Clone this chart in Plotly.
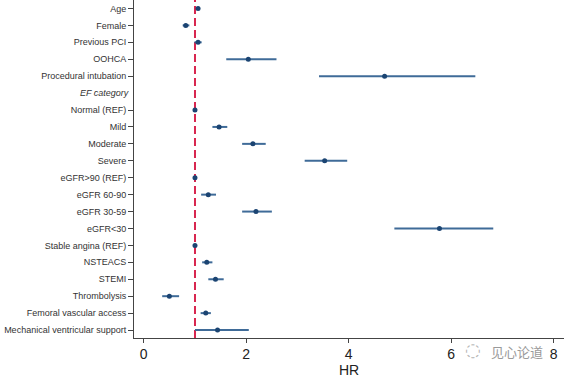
import plotly.graph_objects as go

labels = ["Age", "Female", "Previous PCI", "OOHCA", "Procedural intubation",
          "EF category", "Normal (REF)", "Mild", "Moderate", "Severe",
          "eGFR>90 (REF)", "eGFR 60-90", "eGFR 30-59", "eGFR<30",
          "Stable angina (REF)", "NSTEACS", "STEMI", "Thrombolysis",
          "Femoral vascular access", "Mechanical ventricular support"]
hr = [1.06, 0.82, 1.06, 2.04, 4.70, None, 1.0, 1.47, 2.13, 3.53,
      1.0, 1.26, 2.19, 5.77, 1.0, 1.23, 1.40, 0.50, 1.21, 1.44]
lo = [1.04, 0.76, 0.99, 1.61, 3.42, None, 1.0, 1.34, 1.92, 3.14,
      1.0, 1.12, 1.92, 4.89, 1.0, 1.14, 1.26, 0.36, 1.11, 1.00]
hi = [1.08, 0.89, 1.13, 2.59, 6.47, None, 1.0, 1.63, 2.38, 3.97,
      1.0, 1.41, 2.50, 6.82, 1.0, 1.34, 1.56, 0.69, 1.31, 2.05]
x_ticks = [0, 2, 4, 6, 8]
header_label = "EF category"
watermark = "见心论道"

rows = [i for i, h in enumerate(hr) if h is not None]
xs = [hr[i] for i in rows]
ep = [hi[i] - hr[i] for i in rows]
em = [hr[i] - lo[i] for i in rows]

FONT = "Liberation Sans, Arial"

fig = go.Figure()
fig.add_trace(go.Scatter(
    x=xs, y=rows, mode="markers",
    marker=dict(size=5, color="#1b4472"),
    error_x=dict(type="data", array=ep, arrayminus=em, symmetric=False,
                 width=0, thickness=2, color="#3f6b98"),
    showlegend=False, hoverinfo="skip", cliponaxis=False))

fig.add_shape(type="line", x0=1, x1=1, y0=0, y1=1, xref="x", yref="paper",
              line=dict(color="#d8264f", width=2, dash="8px,4px"), layer="below")

tick_rows = [i for i, l in enumerate(labels) if l != header_label]
hdr_row = labels.index(header_label)

fig.add_annotation(x=0, xref="paper", xanchor="right", xshift=-3,
                   y=hdr_row, yref="y", text="<i>" + header_label + "</i>",
                   showarrow=False,
                   font=dict(family=FONT, size=9, color="#333333"))

fig.add_annotation(x=4, xref="x", y=0, yref="paper", yanchor="middle", yshift=-32,
                   text="HR", showarrow=False,
                   font=dict(family=FONT, size=14, color="#222222"))

fig.add_annotation(x=7.28, xref="x", y=0, yref="paper", yanchor="middle", yshift=-13,
                   text=watermark, showarrow=False, xanchor="center",
                   font=dict(family="Noto Sans CJK SC", size=13, color="#9a9a9a"))
fig.add_annotation(x=6.42, xref="x", y=0, yref="paper", yanchor="middle", yshift=-11,
                   text="◌", showarrow=False, xanchor="center",
                   font=dict(family="DejaVu Sans", size=18, color="#b5b5b5"))

fig.update_xaxes(range=[-0.19, 8.2], tickvals=x_ticks, ticks="outside", ticklen=4,
                 tickwidth=1, tickcolor="#444444", showline=True, linecolor="#444444",
                 linewidth=1, showgrid=False, zeroline=False, automargin=False,
                 ticklabelstandoff=-1,
                 tickfont=dict(family=FONT, size=14, color="#222222"))
fig.update_yaxes(range=[19.47, -0.5], tickvals=tick_rows,
                 ticktext=[labels[i] for i in tick_rows], ticks="outside", ticklen=5,
                 tickwidth=1, tickcolor="#444444", showline=True, linecolor="#444444",
                 linewidth=1, showgrid=False, zeroline=False, automargin=False,
                 tickfont=dict(family=FONT, size=9, color="#333333"))

fig.update_layout(width=564, height=376, margin=dict(l=134, r=0, t=0, b=38),
                  plot_bgcolor="white", paper_bgcolor="white")

fig.write_html("out.html", config={"displayModeBar": False},
               post_script="document.body.style.margin='0';")
